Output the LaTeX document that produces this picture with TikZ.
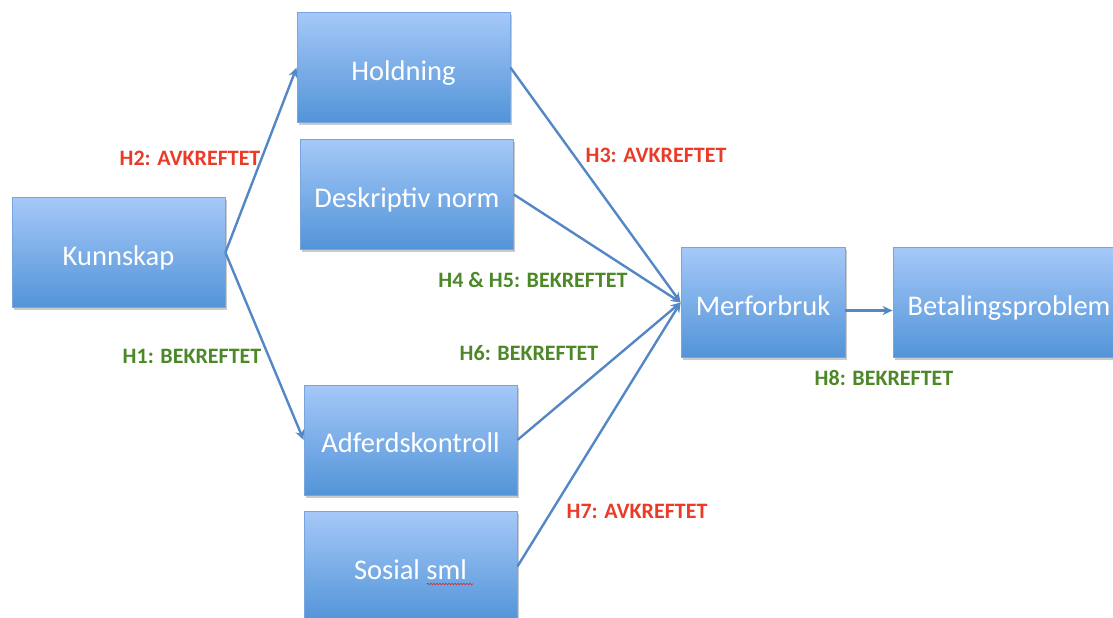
\documentclass[tikz,border=0pt]{standalone}
\usepackage{fontspec}
\setmainfont{Carlito}
\usetikzlibrary{arrows.meta,shadows,decorations.pathmorphing}
\definecolor{arrowblue}{RGB}{84,135,197}
\definecolor{boxtop}{RGB}{165,200,248}
\definecolor{boxbot}{RGB}{82,148,216}
\definecolor{boxline}{RGB}{120,165,222}
\definecolor{lblred}{RGB}{236,58,40}
\definecolor{lblgreen}{RGB}{76,136,40}
\definecolor{wavered}{RGB}{220,40,40}
\begin{document}
\begin{tikzpicture}[x=1pt,y=-1pt,
  box/.style={rectangle, draw=boxline, line width=0.8pt, top color=boxtop, bottom color=boxbot,
    text=white, font=\fontsize{28.5}{30}\selectfont, minimum width=213pt, minimum height=110pt,
    text height=25pt, text depth=0pt,
    inner sep=0pt, drop shadow={shadow xshift=1.5pt, shadow yshift=-2.5pt, opacity=0.35, fill=black!60}},
  conn/.style={draw=arrowblue, line width=2.4pt, -{Stealth[length=10pt,width=9pt]}},
  avk/.style={text=lblred, font=\fontsize{22}{24}\selectfont\bfseries, inner sep=0pt},
  bek/.style={text=lblgreen, font=\fontsize{22}{24}\selectfont\bfseries, inner sep=0pt}
]
\useasboundingbox (0,0) rectangle (1113,618);
\clip (0,0) rectangle (1113,618);
\node[box] (k) at (118.5,252.5) {Kunnskap};
\node[box] (h) at (403.5,67.5) {Holdning};
\node[box] (d) at (407,194.5) {Deskriptiv norm};
\node[box] (a) at (410.5,440) {Adferdskontroll};
\node[box] (s) at (410.5,566.5) {Sosial sml};
\node[box, minimum width=164pt] (m) at (763,302.5) {Merforbruk};
\node[box, minimum width=232pt] (b) at (1009,302.5) {Betalingsproblem};
\draw[wavered, line width=0.6pt, decorate, decoration={snake, amplitude=0.8pt, segment length=3pt}] (427,584) -- (473,584);
\draw[conn] (k.east) -- (h.west);
\draw[conn] (k.east) -- (a.west);
\draw[conn] (h.east) -- (m.west);
\draw[conn] (d.east) -- (m.west);
\draw[conn] (a.east) -- (m.west);
\draw[conn] (s.east) -- (m.west);
\draw[conn] ([yshift=-8pt]m.east) -- ([yshift=-8pt]b.west);
\node[avk] (l2) at (190,158) {H2: AVKREFTET};
\node[avk] (l3) at (656,155) {H3: AVKREFTET};
\node[bek] (l45) at (533,280) {H4 \& H5: BEKREFTET};
\node[bek] (l1) at (192,356) {H1: BEKREFTET};
\node[bek] (l6) at (529,353) {H6: BEKREFTET};
\node[avk] (l7) at (637,511) {H7: AVKREFTET};
\node[bek] (l8) at (884,378) {H8: BEKREFTET};
\end{tikzpicture}
\end{document}
